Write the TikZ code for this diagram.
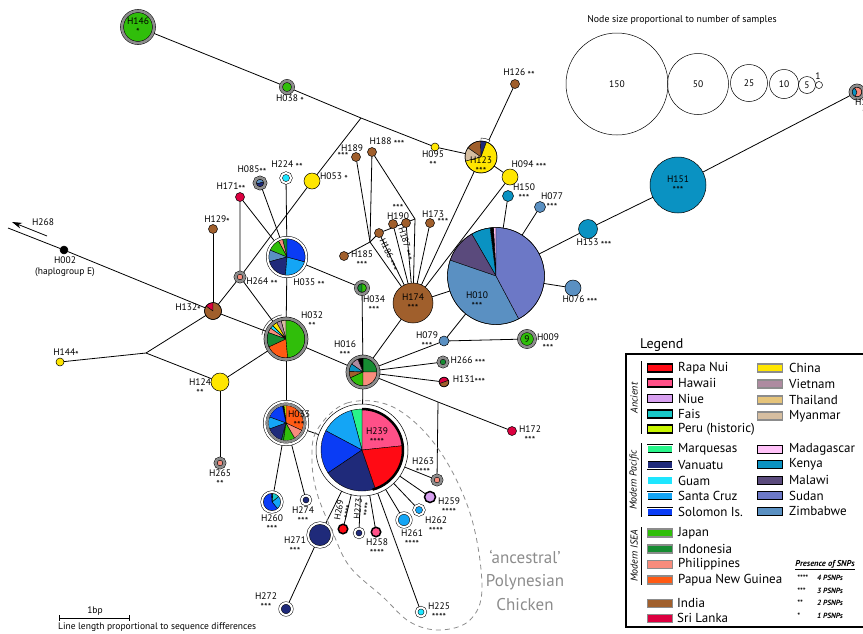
\documentclass[tikz,border=0pt]{standalone}
\usepackage{fontspec}
\setmainfont{PT Sans}
\usetikzlibrary{arrows.meta}

\definecolor{rapanui}{HTML}{FF0A14}
\definecolor{hawaii}{HTML}{FF5088}
\definecolor{niue}{HTML}{D8A0F0}
\definecolor{fais}{HTML}{18C8C8}
\definecolor{peru}{HTML}{C8F500}
\definecolor{marquesas}{HTML}{28F58A}
\definecolor{vanuatu}{HTML}{1F2A7A}
\definecolor{guam}{HTML}{1EE6FF}
\definecolor{santacruz}{HTML}{14A5F5}
\definecolor{solomon}{HTML}{0A3CF5}
\definecolor{japan}{HTML}{30BE0A}
\definecolor{indonesia}{HTML}{168C32}
\definecolor{philippines}{HTML}{F88C7C}
\definecolor{png}{HTML}{FF5A14}
\definecolor{india}{HTML}{A05F2C}
\definecolor{srilanka}{HTML}{DC0040}
\definecolor{china}{HTML}{FFE600}
\definecolor{vietnam}{HTML}{AE8BA0}
\definecolor{thailand}{HTML}{E6C47A}
\definecolor{myanmar}{HTML}{D6BEA0}
\definecolor{madagascar}{HTML}{FFC2F8}
\definecolor{kenya}{HTML}{0A92C2}
\definecolor{malawi}{HTML}{5A4A7C}
\definecolor{sudan}{HTML}{6C78C6}
\definecolor{zimbabwe}{HTML}{5A90C2}
\definecolor{ringgrey}{HTML}{8C8C8C}
\definecolor{blobgrey}{HTML}{8C8C8C}

\pgfdeclarelayer{bg}
\pgfdeclarelayer{pie}
\pgfsetlayers{bg,pie,main}

% small stars marking PSNPs
\newcommand{\sn}[1]{{\fontsize{10}{8}\selectfont\raisebox{-.6ex}{#1}}}
% pie wedges: node, radius, list of start/end/colour
\newcommand{\hapie}[3]{%
  \foreach \p/\q/\col in {#3}
    \filldraw[fill=\col,draw=black,line width=.4pt] (#1.center) -- ++(\p:#2pt)
      arc[start angle=\p,end angle=\q,radius=#2pt] -- cycle;}

\begin{document}
\begin{tikzpicture}[x=1pt,y=-1pt,
  hap/.style={circle,draw,inner sep=0pt,outer sep=0pt,line width=.5pt,minimum size=#1*2pt},
  grey ring/.style={double=ringgrey,double distance=2.6pt},
  white ring/.style={double=white,double distance=2pt},
  ancient/.style={line width=1.5pt},
  link/.style={line width=.8pt},
  lbl/.style={font=\fontsize{9.5}{8}\selectfont,align=center,inner sep=0pt},
  swatch/.style={rectangle,draw,minimum width=25pt,minimum height=8pt,inner sep=0pt},
  legtext/.style={anchor=west,inner sep=0pt,font=\fontsize{13}{13}\selectfont},
  grouplabel/.style={rotate=90,inner sep=0pt,font=\fontsize{10}{10}\selectfont\itshape},
  psnp/.style={anchor=west,inner sep=0pt,font=\fontsize{7.5}{7.5}\selectfont\bfseries\itshape}]
\useasboundingbox (0,0) rectangle (863,633);

% haplotypes
\node[hap=16,grey ring,fill=japan,lbl] (H146) at (138,27) {H146\\\sn{*}};
\node[hap=6,grey ring,fill=japan] (H038) at (287,87) {};
\node[hap=4,fill=china] (H095) at (435,147) {};
\node[hap=16] (H123) at (481,157) {};
\node[hap=4.5,fill=india] (H126) at (515,84) {};
\node[hap=8,fill=china] (H094) at (510,177) {};
\node[hap=8,fill=china] (H053) at (312,181) {};
\node[hap=5,white ring,fill=guam] (H224) at (286,178) {};
\node[hap=5.5,grey ring] (H085) at (260,183) {};
\node[hap=4.5,fill=srilanka] (H171) at (240,197) {};
\node[hap=4.5,fill=india] (H129) at (213,229) {};
\node[hap=19.5,white ring] (H035) at (287,257) {};
\node[hap=4.5,grey ring,fill=philippines] (H264) at (240,277) {};
\node[hap=8.5] (H132) at (213,311) {};
\node[hap=4,fill=black] (H002) at (64,250) {};
\node[hap=4,fill=china] (H144) at (60,362) {};
\node[hap=9,fill=china] (H124) at (220,382) {};
\node[hap=4.5,grey ring,fill=philippines] (H265) at (220,463) {};
\node[hap=20.5,grey ring] (H032) at (286,339) {};
\node[hap=6,grey ring] (H034) at (362,288) {};
\node[hap=15.5,grey ring] (H016) at (363,372) {};
\node[hap=21.5,white ring] (H033) at (286,423) {};
\node[hap=46] (H239) at (362,450) {};
\node[hap=20,fill=india,lbl] (H174) at (413,303) {H174\\\sn{***}};
\node[hap=4.5,fill=india] (H189) at (356,157) {};
\node[hap=4.5,fill=india] (H188) at (372,152) {};
\node[hap=4.5,fill=india] (H190) at (393,224) {};
\node[hap=4.5,fill=india] (H187) at (406,223) {};
\node[hap=4.5,fill=india] (H186) at (379,233) {};
\node[hap=4.5,fill=india] (H173) at (430,223) {};
\node[hap=4.5,fill=india] (H185) at (344,256) {};
\node[hap=48.5] (H010) at (496,276) {};
\node[hap=5.5,fill=kenya] (H150) at (508,196) {};
\node[hap=5.5,fill=zimbabwe] (H077) at (540,207) {};
\node[hap=9.5,fill=kenya] (H153) at (588,229) {};
\node[hap=28,fill=kenya,lbl] (H151) at (678,185) {H151\\\sn{***}};
\node[hap=6.5,grey ring] (H154) at (857,92) {};
\node[hap=8,fill=zimbabwe] (H076) at (573,288) {};
\node[hap=5,fill=zimbabwe] (H079) at (444,341) {};
\node[hap=8,grey ring,fill=japan,lbl] (H009) at (527,339) {9};
\node[hap=4.5,grey ring,fill=indonesia] (H266) at (443,362) {};
\node[hap=5] (H131) at (444,382) {};
\node[hap=4.5,fill=srilanka] (H172) at (512,431) {};
\node[hap=4.5,grey ring,fill=philippines] (H263) at (437,480) {};
\node[hap=5.5,ancient,fill=niue] (H259) at (430,497) {};
\node[hap=5,white ring,fill=santacruz] (H262) at (419,510) {};
\node[hap=7,white ring,fill=santacruz] (H261) at (404,520) {};
\node[hap=4.75,ancient,fill=hawaii] (H258) at (376,532) {};
\node[hap=4.5,white ring,fill=vanuatu] (H273) at (359,533) {};
\node[hap=4.75,ancient,fill=rapanui] (H269) at (343,529) {};
\node[hap=12,white ring,fill=vanuatu] (H271) at (320,535) {};
\node[hap=6,white ring,fill=vanuatu] (H272) at (286,609) {};
\node[hap=4.5,white ring,fill=vanuatu] (H274) at (306,500) {};
\node[hap=10,white ring] (H260) at (272,502) {};
\node[hap=4.5,white ring,fill=guam] (H225) at (421,612) {};

% median vectors and free ends
\coordinate (j1) at (361,118);
\coordinate (j2) at (146,353);
\coordinate (j3) at (438,402);
\coordinate (ja) at (370,242);
\coordinate (jb) at (415,219);
\coordinate (eE) at (8,228);
\coordinate (arA) at (47,236);
\coordinate (arB) at (12,222);

% pies
\begin{pgfonlayer}{pie}
\hapie{H123}{19}{62/90/white}
\hapie{H123}{16}{70/92/vanuatu,92/145/india,145/195/myanmar,195/430/china}
\hapie{H085}{4}{15/195/zimbabwe,195/375/vanuatu}
\hapie{H035}{18.5}{90/104/indonesia,104/118/philippines,118/158/japan,158/195/zimbabwe,195/265/vanuatu,265/345/santacruz,345/450/solomon}
\hapie{H132}{8.5}{90/145/srilanka,145/450/india}
\hapie{H032}{19}{90/105/myanmar,105/120/vietnam,120/135/china,135/145/guam,145/160/philippines,160/205/indonesia,205/275/png,275/450/japan}
\draw[line width=.4pt] ([shift={(100:24.5pt)}]H032.center) arc[start angle=100,end angle=170,radius=24.5pt];
\hapie{H034}{4.5}{90/270/indonesia,270/450/japan}
\hapie{H016}{14}{0/90/indonesia,90/112/black,112/145/vietnam,145/178/kenya,178/205/india,205/270/japan,270/360/philippines}
\hapie{H033}{17.5}{-25/90/png,90/97/peru,97/102/black,102/160/solomon,160/200/santacruz,200/255/vanuatu,255/262/indonesia,262/300/japan,300/335/philippines}
\draw[ringgrey,line width=2pt] (H033.center) circle[radius=18.8pt];
\hapie{H239}{41}{6/90/hawaii,90/105/marquesas,105/152/santacruz,152/214/solomon,214/289/vanuatu,289/366/rapanui}
\draw[line width=2.5pt] ([shift={(-75:41pt)}]H239.center) arc[start angle=-75,end angle=90,radius=41pt];
\hapie{H010}{48.5}{90/93/madagascar,93/97/black,97/120/kenya,120/161/malawi,161/298/zimbabwe,298/450/sudan}
\hapie{H154}{5}{120/250/kenya,250/480/philippines}
\hapie{H131}{5}{20/200/srilanka,200/380/india}
\hapie{H260}{9}{-50/40/santacruz,40/86/fais,86/94/black,94/310/solomon}
\end{pgfonlayer}

% links
\begin{pgfonlayer}{bg}
\draw[link] (H146) -- (H038);
\draw[link] (H038) -- (j1) -- (H095) -- (H123);
\draw[link] (j1) -- (H053) -- (H264) -- (H132);
\draw[link] (H132) -- (H129);
\draw[link] (H132) -- (H002) -- (eE);
\draw[link] (H132) -- (H032);
\draw[link] (H132) -- (j2) -- (H144);
\draw[link] (j2) -- (H124);
\draw[link] (H124) -- (H032);
\draw[link] (H124) -- (H265);
\draw[link] (H264) -- (H032);
\draw[link] (H264) -- (H171) -- (H035);
\draw[link] (H085) -- (H035);
\draw[link] (H224) -- (H035);
\draw[link] (H035) -- (H032);
\draw[link] (H035) -- (H034) -- (H016);
\draw[link] (H032) -- (H033);
\draw[link] (H032) -- (H016);
\draw[link] (H016) -- (H239);
\draw[link] (H016) -- (H174);
\draw[link] (H016) -- (H079);
\draw[link] (H016) -- (H266);
\draw[link] (H016) -- (H131);
\draw[link] (H016) -- (j3) -- (H172);
\draw[link] (j3) -- (H263);
\draw[link] (H033) -- (H239);
\draw[link] (H033) -- (H260);
\draw[link] (H033) -- (H274);
\draw[link] (H239) -- (H271) -- (H272);
\foreach \h in {H269,H273,H258,H225,H261,H262,H259,H263}
  \draw[link] (H239) -- (\h);
\draw[link] (H185) -- (ja) -- (H186) -- (jb);
\draw[link] (H189) -- (ja);
\draw[link] (H188) -- (ja);
\draw[link] (H188) -- (jb);
\foreach \h in {ja,H186,H190,H187,jb,H173,H123,H094}
  \draw[link] (\h) -- (H174);
\draw[link] (H174) -- (H010);
\draw[link] (H123) -- (H126);
\draw[link] (H123) -- (H094);
\foreach \h in {H150,H077,H076,H079}
  \draw[link] (H010) -- (\h);
\draw[link] (H010) -- (H153) -- (H151) -- (H154);
\draw[link] (H079) -- (H009);
\end{pgfonlayer}
\draw[link,-{Stealth[length=10pt,width=6pt]}] (arA) -- (arB);

% 'ancestral' group
\draw[blobgrey,line width=.8pt,dash pattern=on 5pt off 4pt] plot[smooth cycle,tension=.6] coordinates
  {(317,430) (347,403) (393,407) (437,447) (470,513) (482,587) (470,620) (440,630) (410,622) (383,597) (350,567) (333,533) (317,493) (312,460)};
\node[blobgrey,align=center,inner sep=0pt,font=\fontsize{17}{23.5}\selectfont] (tAnc) at (525,580) {‘ancestral’\\Polynesian\\Chicken};

% labels
\node[lbl] (tH123) at (481,166) {H123\\\sn{***}};
\node[lbl] (tH010) at (477,301) {H010\\\sn{***}};
\node[lbl] (tH239) at (377,437) {H239\\\sn{****}};
\node[lbl] (tH033) at (299,420) {H033\\\sn{***}};
\node[lbl] (tH038) at (290,100) {H038 \sn{*}};
\node[lbl] (tH095) at (433,160) {H095\\\sn{**}};
\node[lbl] (tH126) at (519,74) {H126 \sn{**}};
\node[lbl] (tH094) at (529,166) {H094 \sn{***}};
\node[lbl] (tH150) at (524,193) {H150\\\sn{***}};
\node[lbl] (tH077) at (552,202) {H077\\\sn{***}};
\node[lbl] (tH153) at (594,244) {H153 \sn{***}};
\node[lbl] (tH076) at (580,301) {H076 \sn{***}};
\node[lbl] (tH154) at (866,108) {H154\\\sn{**}};
\node[lbl] (tH079) at (427,341) {H079\\\sn{***}};
\node[lbl] (tH009) at (548,343) {H009\\\sn{***}};
\node[lbl] (tH266) at (468,362) {H266 \sn{***}};
\node[lbl] (tH131) at (469,381) {H131\sn{***}};
\node[lbl] (tH172) at (530,435) {H172\\\sn{***}};
\node[lbl] (tH263) at (423,467) {H263\\\sn{****}};
\node[lbl] (tH259) at (449,507) {H259\\\sn{****}};
\node[lbl] (tH262) at (436,526) {H262\\\sn{****}};
\node[lbl] (tH261) at (412,539) {H261\\\sn{****}};
\node[lbl] (tH258) at (377,548) {H258\\\sn{****}};
\node[lbl,rotate=80,font=\fontsize{9}{7.5}\selectfont] (tH269) at (344,511) {H269\\\sn{****}};
\node[lbl,rotate=84,font=\fontsize{9}{7.5}\selectfont] (tH273) at (363,509) {H273\\\sn{****}};
\node[lbl] (tH271) at (295,546) {H271\\\sn{***}};
\node[lbl] (tH272) at (266,602) {H272\\\sn{***}};
\node[lbl] (tH274) at (303,516) {H274\\\sn{***}};
\node[lbl] (tH260) at (272,524) {H260\\\sn{***}};
\node[lbl] (tH225) at (439,612) {H225\\\sn{****}};
\node[lbl] (tH265) at (220,479) {H265\\\sn{**}};
\node[lbl] (tH124) at (200,388) {H124\\\sn{**}};
\node[lbl] (tH144) at (66,354) {H144\sn{*}};
\node[lbl] (tH132) at (188,309) {H132\sn{*}};
\node[lbl] (tH129) at (217,221) {H129\sn{*}};
\node[lbl] (tH268) at (43,222) {H268};
\node[lbl,font=\fontsize{9.5}{11}\selectfont] (tH002) at (65,267) {H002\\(haplogroup E)};
\node[lbl] (tH264) at (262,283) {H264 \sn{**}};
\node[lbl] (tH035) at (309,284) {H035 \sn{**}};
\node[lbl] (tH032) at (312,321) {H032\\\sn{**}};
\node[lbl] (tH034) at (374,305) {H034\\\sn{***}};
\node[lbl] (tH016) at (345,350) {H016\\\sn{***}};
\node[lbl] (tH224) at (287,166) {H224 \sn{**}};
\node[lbl] (tH085) at (252,171) {H085\sn{**}};
\node[lbl] (tH171) at (231,188) {H171\sn{**}};
\node[lbl] (tH053) at (334,178) {H053 \sn{*}};
\node[lbl] (tH189) at (352,148) {H189};
\node[lbl] (sH189) at (343,156) {\sn{***}};
\node[lbl] (tH188) at (387,143) {H188 \sn{***}};
\node[lbl] (tH190) at (398,212) {\sn{***}\\H190};
\node[lbl] (tH173) at (433,214) {H173};
\node[lbl] (sH173) at (443,222) {\sn{***}};
\node[lbl] (tH185) at (362,260) {H185\\\sn{***}};
\node[lbl,rotate=-65,font=\fontsize{9}{8}\selectfont] (tH186) at (388,255) {H186 \sn{***}};
\node[lbl,rotate=-73,font=\fontsize{9}{8}\selectfont] (tH187) at (405,244) {H187 \sn{***}};

% node size key
\node[lbl,font=\fontsize{9.8}{9.8}\selectfont] (tSize) at (682,20) {Node size proportional to number of samples};
\node[hap=51,lbl] (s150) at (617,84) {150};
\node[hap=30.5,lbl] (s50) at (698,84) {50};
\node[hap=18.5,lbl] (s25) at (749,83) {25};
\node[hap=14.5,lbl] (s10) at (784,84) {10};
\node[hap=8.5,lbl] (s5) at (807,85) {5};
\node[hap=3.5] (s1) at (819,85) {};
\node[lbl] (t1) at (818,76) {1};

% scale bar
\coordinate (sbL) at (59,618);
\coordinate (sbR) at (130,618);
\draw[line width=.6pt,|-|] (sbL) -- (sbR);
\node[lbl] (tbp) at (95,611) {1bp};
\node[lbl,anchor=west] (tScale) at (58,627) {Line length proportional to sequence differences};

% legend
\node[anchor=west,inner sep=0pt,font=\fontsize{14}{14}\selectfont] (tLeg) at (640,345) {Legend};
\draw[line width=1.2pt] (626,354) rectangle (875,627);
\foreach \col/\txt [count=\i] in {rapanui/Rapa Nui,hawaii/Hawaii,niue/Niue,fais/Fais,peru/Peru (historic)} {
  \node[swatch,line width=1.6pt,fill=\col] (sa\i) at (660,352.75+15.25*\i) {};
  \node[legtext] (ta\i) at (678,352.75+15.25*\i) {\txt};
}
\foreach \col/\txt [count=\i] in {marquesas/Marquesas,vanuatu/Vanuatu,guam/Guam,santacruz/Santa Cruz,solomon/Solomon Is.} {
  \node[swatch,double=white,double distance=.8pt,fill=\col] (sp\i) at (660,433.25+15.75*\i) {};
  \node[legtext] (tp\i) at (678,433.25+15.75*\i) {\txt};
}
\foreach \col/\txt [count=\i] in {japan/Japan,indonesia/Indonesia,philippines/Philippines,png/Papua New Guinea} {
  \node[swatch,draw=ringgrey,line width=1.8pt,fill=\col] (si\i) at (660,517.3+15.7*\i) {};
  \node[legtext] (ti\i) at (678,517.3+15.7*\i) {\txt};
}
\foreach \col/\txt [count=\i] in {india/India,srilanka/Sri Lanka} {
  \node[swatch,draw=ringgrey,line width=1pt,fill=\col] (ss\i) at (660,588+15*\i) {};
  \node[legtext] (ts\i) at (677,588+15*\i) {\txt};
}
\foreach \col/\txt [count=\i] in {china/China,vietnam/Vietnam,thailand/Thailand,myanmar/Myanmar} {
  \node[swatch,draw=ringgrey,line width=1.2pt,fill=\col] (sc\i) at (770,352+16*\i) {};
  \node[legtext] (tc\i) at (789,352+16*\i) {\txt};
}
\foreach \col/\txt [count=\i] in {madagascar/Madagascar,kenya/Kenya,malawi/Malawi,sudan/Sudan,zimbabwe/Zimbabwe} {
  \node[swatch,line width=1pt,fill=\col] (sf\i) at (770,433.5+15.5*\i) {};
  \node[legtext] (tf\i) at (789,433.5+15.5*\i) {\txt};
}
\node[grouplabel] (gA) at (634,398) {Ancient};
\node[grouplabel] (gP) at (634,480) {Modern Pacific};
\node[grouplabel] (gI) at (634,556) {Modern ISEA};
\coordinate (bA1) at (641,361); \coordinate (bA2) at (641,434);
\coordinate (bP1) at (641,443); \coordinate (bP2) at (641,517);
\coordinate (bI1) at (641,527); \coordinate (bI2) at (641,585);
\draw[line width=1pt] (bA1) -- (bA2) (bP1) -- (bP2) (bI1) -- (bI2);
\node[inner sep=0pt,font=\fontsize{8.5}{8.5}\selectfont\bfseries\itshape] (tSNP) at (825,565) {\underline{Presence of SNPs}};
\foreach \st/\txt [count=\i] in {****/4 PSNPs,***/3 PSNPs,**/2 PSNPs,*/1 PSNPs} {
  \node[psnp] (ps\i) at (797,565.5+12.5*\i) {\st};
  \node[psnp] (pt\i) at (817,565.5+12.5*\i) {\txt};
}
\end{tikzpicture}
\end{document}
